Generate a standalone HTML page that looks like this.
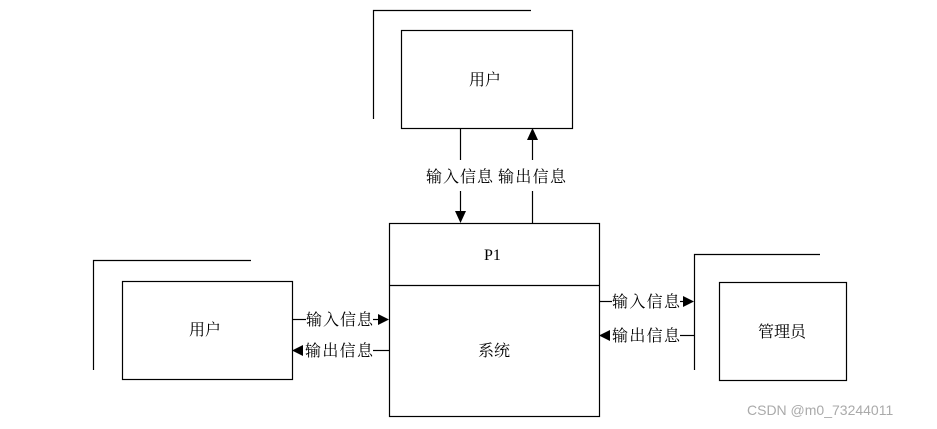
<!DOCTYPE html>
<html><head><meta charset="utf-8"><style>
html,body{margin:0;padding:0;background:#fff;width:937px;height:429px;overflow:hidden}
text{font-family:"Liberation Serif","Noto Serif CJK SC",serif;font-size:16px;fill:#000}
</style></head><body>
<svg width="937" height="429" viewBox="0 0 937 429" xmlns="http://www.w3.org/2000/svg">
<g stroke="#000" stroke-width="1.2" fill="none">
<!-- top user -->
<polyline points="373.5,119 373.5,10.5 531,10.5"/>
<rect x="401.5" y="30.5" width="171" height="98"/>
<!-- left user -->
<polyline points="93.5,370 93.5,260.5 251,260.5"/>
<rect x="122.5" y="281.5" width="170" height="98"/>
<!-- admin -->
<polyline points="694.5,370 694.5,254.5 820,254.5"/>
<rect x="719.5" y="282.5" width="127" height="98"/>
<!-- main -->
<rect x="389.5" y="223.5" width="210" height="193"/>
<line x1="389" y1="285.5" x2="600" y2="285.5"/>
<!-- top connectors -->
<line x1="460.5" y1="128" x2="460.5" y2="160"/>
<line x1="460.5" y1="191" x2="460.5" y2="212"/>
<line x1="532.5" y1="140" x2="532.5" y2="160"/>
<line x1="532.5" y1="191" x2="532.5" y2="223"/>
<!-- left connectors -->
<line x1="292" y1="319.5" x2="306" y2="319.5"/>
<line x1="373" y1="319.5" x2="379" y2="319.5"/>
<line x1="373" y1="350.5" x2="389" y2="350.5"/>
<!-- right connectors -->
<line x1="599" y1="301.5" x2="612" y2="301.5"/>
<line x1="680" y1="301.5" x2="684" y2="301.5"/>
<line x1="680" y1="335.5" x2="694" y2="335.5"/>
</g>
<g fill="#000">
<polygon points="455,211 466,211 460.5,223"/>
<polygon points="527,140 538,140 532.5,128"/>
<polygon points="378,314 378,325 389,319.5"/>
<polygon points="303,345 303,356 292,350.5"/>
<polygon points="683,296 683,307 694,301.5"/>
<polygon points="610,330 610,341 599,335.5"/>
</g>
<text x="426" y="182" textLength="67">输入信息</text>
<text x="498" y="182" textLength="68">输出信息</text>
<text x="469" y="85">用户</text>
<text x="189" y="335">用户</text>
<text x="758" y="337">管理员</text>
<text x="484" y="260">P1</text>
<text x="478" y="356">系统</text>
<text x="306" y="325" textLength="67">输入信息</text>
<text x="305" y="356" textLength="68">输出信息</text>
<text x="612" y="307" textLength="68">输入信息</text>
<text x="612" y="341" textLength="68">输出信息</text>
<text x="747" y="415" style="font-family:'Liberation Sans',sans-serif;font-size:14px;fill:#aaa">CSDN @m0_73244011</text>
</svg>
</body></html>
